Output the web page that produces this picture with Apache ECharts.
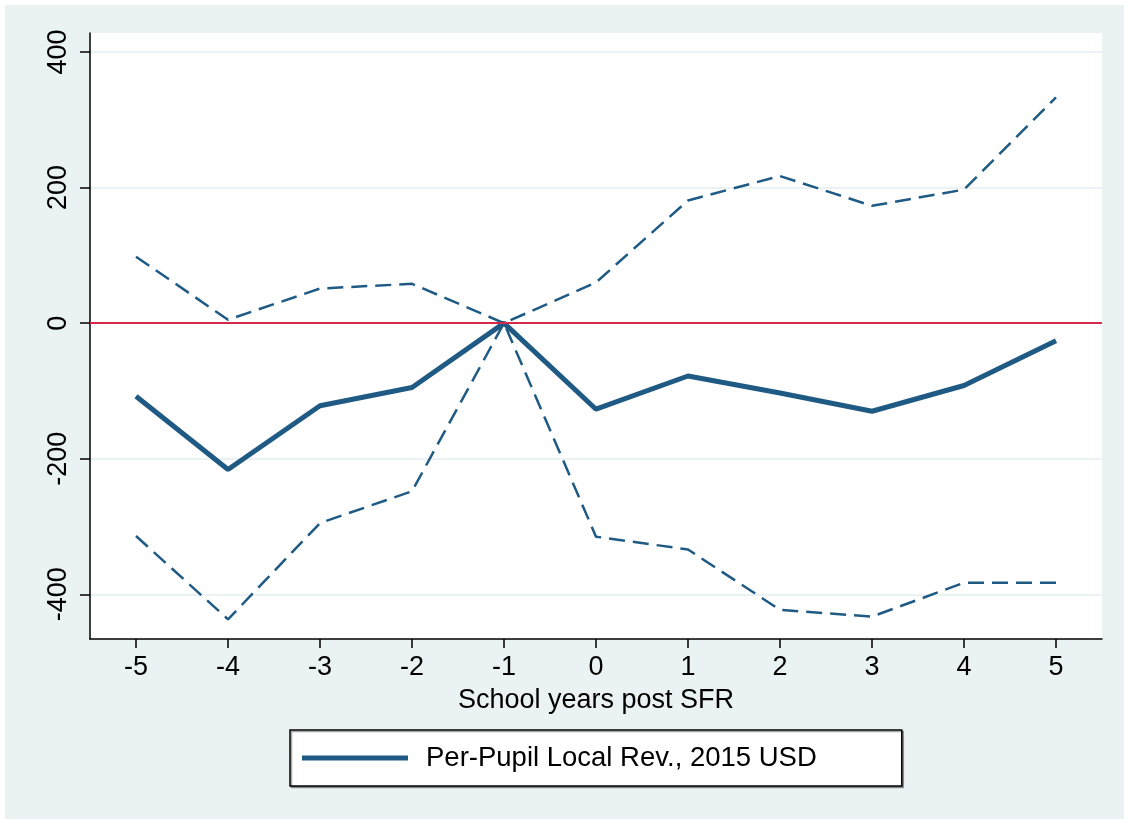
<!DOCTYPE html>
<html>
<head>
<meta charset="utf-8">
<title>Per-Pupil Local Revenue event study</title>
<script src="https://cdn.jsdelivr.net/npm/echarts@6/dist/echarts.min.js"></script>
<style>
  html, body { margin: 0; padding: 0; background: #fff; }
  #chart { width: 1124px; height: 819px; }
</style>
</head>
<body>
<div id="chart"></div>
<script>
// Event time (school years relative to the school finance reform)
const years = ['-5', '-4', '-3', '-2', '-1', '0', '1', '2', '3', '4', '5'];
// Point estimates, per-pupil local revenue (2015 USD)
const estimate = [-108, -216, -122, -95, 0, -127, -78, -103, -130, -92, -26];
// Upper and lower bounds of the confidence interval
const upperCI = [98, 5, 51, 58, 0, 60, 181, 217, 173, 197, 333];
const lowerCI = [-314, -437, -295, -248, 0, -315, -334, -423, -433, -383, -383];
// Y axis tick values
const yTicks = [-400, -200, 0, 200, 400];

const seriesName = 'Per-Pupil Local Rev., 2015 USD';
const navy = '#1f5a84';
const bgTint = '#eaf2f3';
const font = 'Liberation Sans, Arial, Helvetica, sans-serif';

const chart = echarts.init(document.getElementById('chart'), null, { renderer: 'canvas' });

chart.setOption({
  backgroundColor: '#fff',
  animation: false,
  textStyle: { fontFamily: font, color: '#000' },
  graphic: [{
    type: 'rect',
    z: -100,
    silent: true,
    shape: { x: 5, y: 5, width: 1124, height: 819 },
    style: { fill: bgTint }
  }],
  grid: {
    left: 90, top: 33, right: 22, bottom: 180,
    show: true, backgroundColor: '#fff', borderWidth: 0
  },
  legend: {
    data: [{ name: seriesName, icon: 'rect' }],
    left: 290, top: 730,
    orient: 'horizontal',
    backgroundColor: '#fff',
    borderColor: '#000',
    borderWidth: 1.5,
    borderRadius: 0,
    shadowColor: 'rgba(0,0,0,0.35)',
    shadowOffsetX: 1.5,
    shadowOffsetY: 1.5,
    padding: [14, 85, 14, 12],
    itemWidth: 106,
    itemHeight: 5,
    selectedMode: false,
    itemStyle: { color: navy },
    textStyle: { fontFamily: font, fontSize: 27.5, color: '#000', padding: [0, 0, 0, 13] }
  },
  xAxis: {
    type: 'category',
    data: years,
    boundaryGap: true,
    name: 'School years post SFR',
    nameLocation: 'middle',
    nameGap: 48,
    nameTextStyle: { fontFamily: font, fontSize: 27, color: '#000' },
    axisLine: { show: true, onZero: false, lineStyle: { color: '#000', width: 1.5 } },
    axisTick: { show: true, alignWithLabel: true, length: 9, lineStyle: { color: '#000', width: 1.5 } },
    axisLabel: { fontFamily: font, fontSize: 27, color: '#000', margin: 15 },
    splitLine: { show: false }
  },
  yAxis: {
    type: 'value',
    min: -466,
    max: 428,
    axisLine: { show: true, onZero: false, lineStyle: { color: '#000', width: 1.5 } },
    axisTick: { show: true, length: 10, customValues: yTicks, lineStyle: { color: '#000', width: 1.5 } },
    axisLabel: { fontFamily: font, fontSize: 27, color: '#000', rotate: 90, margin: 18, customValues: yTicks },
    splitLine: { show: true, lineStyle: { color: bgTint, width: 2 } }
  },
  series: [
    {
      name: 'reference',
      type: 'line',
      data: [],
      z: 1,
      silent: true,
      markLine: {
        silent: true,
        symbol: ['none', 'none'],
        label: { show: false },
        lineStyle: { color: '#d42a4c', width: 2.2, type: 'solid' },
        data: [{ yAxis: 0 }]
      }
    },
    {
      name: 'upper',
      type: 'line',
      data: upperCI,
      z: 2,
      symbol: 'none',
      lineStyle: { color: navy, width: 2.5, type: [16, 8] }
    },
    {
      name: 'lower',
      type: 'line',
      data: lowerCI,
      z: 2,
      symbol: 'none',
      lineStyle: { color: navy, width: 2.5, type: [16, 8] }
    },
    {
      name: seriesName,
      type: 'line',
      data: estimate,
      z: 3,
      symbol: 'none',
      color: navy,
      lineStyle: { color: navy, width: 5 }
    }
  ]
});
</script>
</body>
</html>
